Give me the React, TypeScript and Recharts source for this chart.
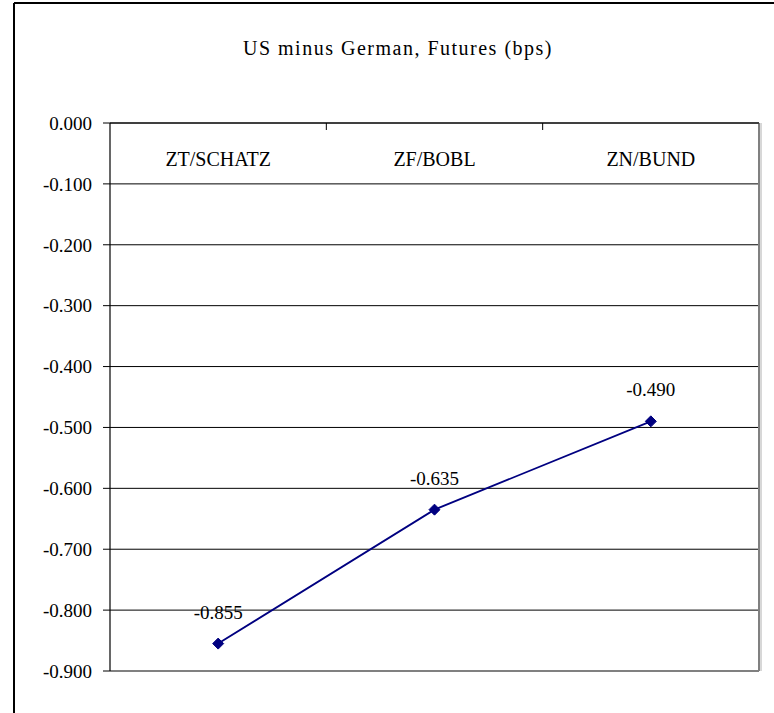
import React from 'react';
import { LineChart, Line, XAxis, YAxis, CartesianGrid, ReferenceLine, LabelList } from 'recharts';

const categories = ['ZT/SCHATZ', 'ZF/BOBL', 'ZN/BUND'];
const spreadValues = [-0.855, -0.635, -0.49];
const yTicks = [0, -0.1, -0.2, -0.3, -0.4, -0.5, -0.6, -0.7, -0.8, -0.9];
const title = 'US minus German, Futures (bps)';

const data = categories.map((c, i) => ({ name: c, value: spreadValues[i] }));

const FONT = 'Liberation Serif';

const Diamond = (props: any) => {
  const { cx, cy } = props;
  if (cx == null || cy == null) return null;
  const r = 5.5;
  return (
    <polygon
      points={`${cx},${cy - r} ${cx + r},${cy} ${cx},${cy + r} ${cx - r},${cy}`}
      fill="#000080"
      stroke="#000080"
      strokeWidth={1}
    />
  );
};

const CategoryTick = (props: any) => {
  const { x, y, payload, index, visibleTicksCount, width } = props;
  const half =
    payload && typeof payload.offset === 'number' && payload.offset > 0
      ? payload.offset
      : width / (visibleTicksCount || 3) / 2;
  const isLast = index === (visibleTicksCount || categories.length) - 1;
  return (
    <g>
      <text x={x} y={y + 43} textAnchor="middle" fill="#000" fontSize={20} fontFamily={FONT}>
        {payload.value}
      </text>
      {!isLast && <line x1={x + half} y1={y} x2={x + half} y2={y + 7} stroke="#000" strokeWidth={1} />}
    </g>
  );
};

export default function App() {
  return (
    <div style={{ position: 'fixed', left: 0, top: 0, width: 774, height: 713, overflow: 'hidden', background: '#fff', fontFamily: FONT }}>
      <div style={{ position: 'absolute', left: 0, top: 0 }}>
        <LineChart width={774} height={713} data={data} margin={{ top: 123, right: 15, bottom: 42, left: 0 }} style={{ fontFamily: FONT }}>
          <CartesianGrid horizontal vertical={false} stroke="#000" strokeWidth={1} />
          <CartesianGrid
            horizontal={false}
            vertical
            stroke="#b0b0b0"
            strokeWidth={1}
            verticalCoordinatesGenerator={(p: any) => [p.offset.left + p.offset.width + 2]}
          />
          <CartesianGrid
            horizontal={false}
            vertical
            stroke="#808080"
            strokeWidth={2}
            verticalCoordinatesGenerator={(p: any) => [p.offset.left + p.offset.width]}
          />
          <XAxis
            dataKey="name"
            type="category"
            scale="band"
            orientation="top"
            mirror
            axisLine={{ stroke: '#000', strokeWidth: 1.2 }}
            tickLine={false}
            tickSize={0}
            tickMargin={0}
            tick={<CategoryTick />}
            interval={0}
          />
          <YAxis
            type="number"
            domain={[-0.9, 0]}
            ticks={yTicks}
            interval={0}
            width={110}
            tickSize={7}
            tickMargin={11}
            axisLine={{ stroke: '#000', strokeWidth: 1.2 }}
            tickLine={{ stroke: '#000', strokeWidth: 1 }}
            tick={{ fill: '#000', fontSize: 19, fontFamily: FONT }}
            tickFormatter={(v: number) => v.toFixed(3)}
          />
          <ReferenceLine y={-0.9} stroke="#808080" strokeWidth={2} />
          <Line
            type="linear"
            dataKey="value"
            stroke="#000080"
            strokeWidth={1.8}
            dot={<Diamond />}
            activeDot={false}
            isAnimationActive={false}
          >
            <LabelList
              dataKey="value"
              position="top"
              offset={25}
              fill="#000"
              fontSize={19}
              fontFamily={FONT}
              formatter={(v: any) => Number(v).toFixed(3)}
            />
          </Line>
        </LineChart>
      </div>
      <svg width={774} height={713} style={{ position: 'absolute', left: 0, top: 0, pointerEvents: 'none' }}>
        <line x1={14} y1={3} x2={774} y2={3} stroke="#000" strokeWidth={2} />
        <line x1={14} y1={3} x2={14} y2={713} stroke="#000" strokeWidth={2} />
        <text x={398} y={55} textAnchor="middle" fill="#000" fontSize={20} fontFamily={FONT} letterSpacing={1.5}>
          {title}
        </text>
      </svg>
    </div>
  );
}
